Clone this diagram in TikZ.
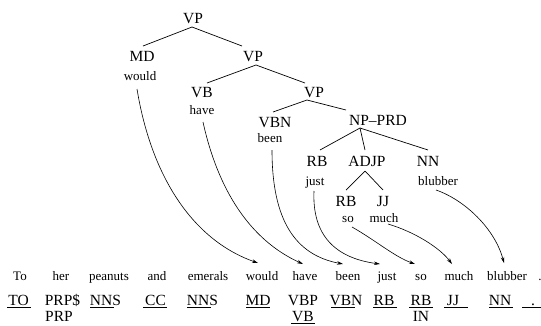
\documentclass[tikz,border=0pt]{standalone}
\usepackage{fontspec}
\setmainfont{Liberation Serif}
\usetikzlibrary{arrows.meta,calc}
\begin{document}
\begin{tikzpicture}[x=1pt,y=-1pt,
  tag/.style={font=\fontsize{15.5}{16}\selectfont, inner sep=0pt, anchor=base},
  wd/.style={font=\fontsize{13}{14}\selectfont, inner sep=0pt, anchor=base},
  edge/.style={line width=0.7pt},
  arr/.style={line width=0.6pt, -{Stealth[length=6pt,width=3.5pt]}},
  uline/.style={line width=0.8pt}]
\useasboundingbox (0,0) rectangle (541,325);
% tree
\node[tag] (vp1) at (193,23) {VP};
\node[tag] (md) at (142,61) {MD};
\node[wd] (w-would) at (140,80) {would};
\node[tag] (vp2) at (253,61) {VP};
\node[tag] (vb) at (202,97) {VB};
\node[wd] (w-have) at (202,114) {have};
\node[tag] (vp3) at (314,97) {VP};
\node[tag] (vbn) at (275,127) {VBN};
\node[wd] (w-been) at (270,142) {been};
\node[tag] (np) at (378,125) {NP--PRD};
\node[tag] (rb) at (317,166) {RB};
\node[wd] (w-just) at (315,185) {just};
\node[tag] (adjp) at (367,166) {ADJP};
\node[tag] (nn) at (428,166) {NN};
\node[wd] (w-blubber) at (438,185) {blubber};
\node[tag] (rb2) at (346,206) {RB};
\node[wd] (w-so) at (348,222) {so};
\node[tag] (jj) at (383,206) {JJ};
\node[wd] (w-much) at (384,222) {much};
% tree edges
\draw[edge] ($(vp1.base)+(-1,4)$) -- ($(md.base)+(1,-15)$);
\draw[edge] ($(vp1.base)+(-1,4)$) -- ($(vp2.base)+(-11,-15)$);
\draw[edge] ($(vp2.base)+(3,4)$) -- ($(vb.base)+(5,-14)$);
\draw[edge] ($(vp2.base)+(3,4)$) -- ($(vp3.base)+(-9,-14)$);
\draw[edge] ($(vp3.base)+(-7,3)$) -- ($(vbn.base)+(-2,-15)$);
\draw[edge] ($(vp3.base)+(-7,3)$) -- ($(np.base)+(-32,-15)$);
\draw[edge] ($(np.base)+(-18,3)$) -- ($(rb.base)+(3,-16)$);
\draw[edge] ($(np.base)+(-18,3)$) -- ($(adjp.base)+(-2,-16)$);
\draw[edge] ($(np.base)+(-18,3)$) -- ($(nn.base)+(0,-16)$);
\draw[edge] ($(adjp.base)+(-2,5)$) -- ($(rb2.base)+(0,-16)$);
\draw[edge] ($(adjp.base)+(-2,5)$) -- ($(jj.base)+(0,-16)$);
% bottom words
\node[wd] (b-to) at (20,280) {To};
\node[wd] (b-her) at (61,280) {her};
\node[wd] (b-peanuts) at (109,280) {peanuts};
\node[wd] (b-and) at (157,280) {and};
\node[wd] (b-emerals) at (208,280) {emerals};
\node[wd] (b-would) at (262,280) {would};
\node[wd] (b-have) at (305,280) {have};
\node[wd] (b-been) at (348,280) {been};
\node[wd] (b-just) at (387,280) {just};
\node[wd] (b-so) at (421,280) {so};
\node[wd] (b-much) at (459,280) {much};
\node[wd] (b-blubber) at (507,280) {blubber};
\node[wd] (b-dot) at (540,280) {.};
% tags
\node[tag] (t-to) at (18.5,305) {TO};
\node[tag] (t-her) at (62.5,305) {PRP\$};
\node[tag] (t-her2) at (59,321) {PRP};
\node[tag] (t-peanuts) at (105.5,305) {NNS};
\node[tag] (t-and) at (155.5,305) {CC};
\node[tag] (t-emerals) at (202.5,305) {NNS};
\node[tag] (t-would) at (258,305) {MD};
\node[tag] (t-have) at (303,305) {VBP};
\node[tag] (t-have2) at (303,321) {VB};
\node[tag] (t-been) at (346,305) {VBN};
\node[tag] (t-just) at (384,305) {RB};
\node[tag] (t-so) at (421,305) {RB};
\node[tag] (t-so2) at (421,321) {IN};
\node[tag] (t-much) at (453,305) {JJ};
\node[tag] (t-blubber) at (500,305) {NN};
\node[tag] (t-dot) at (533,305) {.};
% underlines
\draw[uline] ($(t-to.base)+(-11.5,2)$) -- +(24,0);
\draw[uline] ($(t-peanuts.base)+(-15.5,2)$) -- +(24,0);
\draw[uline] ($(t-and.base)+(-12.5,2)$) -- +(24,0);
\draw[uline] ($(t-emerals.base)+(-15.5,2)$) -- +(24,0);
\draw[uline] ($(t-would.base)+(-12,2)$) -- +(24,0);
\draw[uline] ($(t-have2.base)+(-12,2.5)$) -- +(24,0);
\draw[uline] ($(t-been.base)+(-15,2)$) -- +(24,0);
\draw[uline] ($(t-just.base)+(-11,2)$) -- +(24,0);
\draw[uline] ($(t-so.base)+(-12,2)$) -- +(24,0);
\draw[uline] ($(t-much.base)+(-9,2)$) -- +(24,0);
\draw[uline] ($(t-blubber.base)+(-11,2)$) -- +(24,0);
\draw[uline] ($(t-dot.base)+(-11,2)$) -- +(24,0);
% arrows
\draw[arr] ($(w-would.base)+(-3,9)$) .. controls +(15,91) and +(-63,-22) .. ($(b-would.base)+(-4,-17)$);
\draw[arr] ($(w-have.base)+(1,8)$) .. controls +(15,68) and +(-53,-24) .. ($(b-have.base)+(-2,-16)$);
\draw[arr] ($(w-been.base)+(2,8)$) .. controls +(0,70) and +(-48,-9) .. ($(b-been.base)+(-5,-16)$);
\draw[arr] ($(w-just.base)+(-1,6)$) .. controls +(-2,44) and +(-45,-6) .. ($(b-just.base)+(-7,-16)$);
\draw[arr] ($(w-so.base)+(4,5)$) .. controls +(23,13) and +(-20,-7) .. ($(b-so.base)+(-6,-16)$);
\draw[arr] ($(w-much.base)+(4,2)$) .. controls +(27,8) and +(-12,-16) .. ($(b-much.base)+(-7,-16)$);
\draw[arr] ($(w-blubber.base)+(-2,5)$) .. controls +(29,10) and +(-9,-34) .. ($(b-blubber.base)+(-3,-17)$);
\end{tikzpicture}
\end{document}
